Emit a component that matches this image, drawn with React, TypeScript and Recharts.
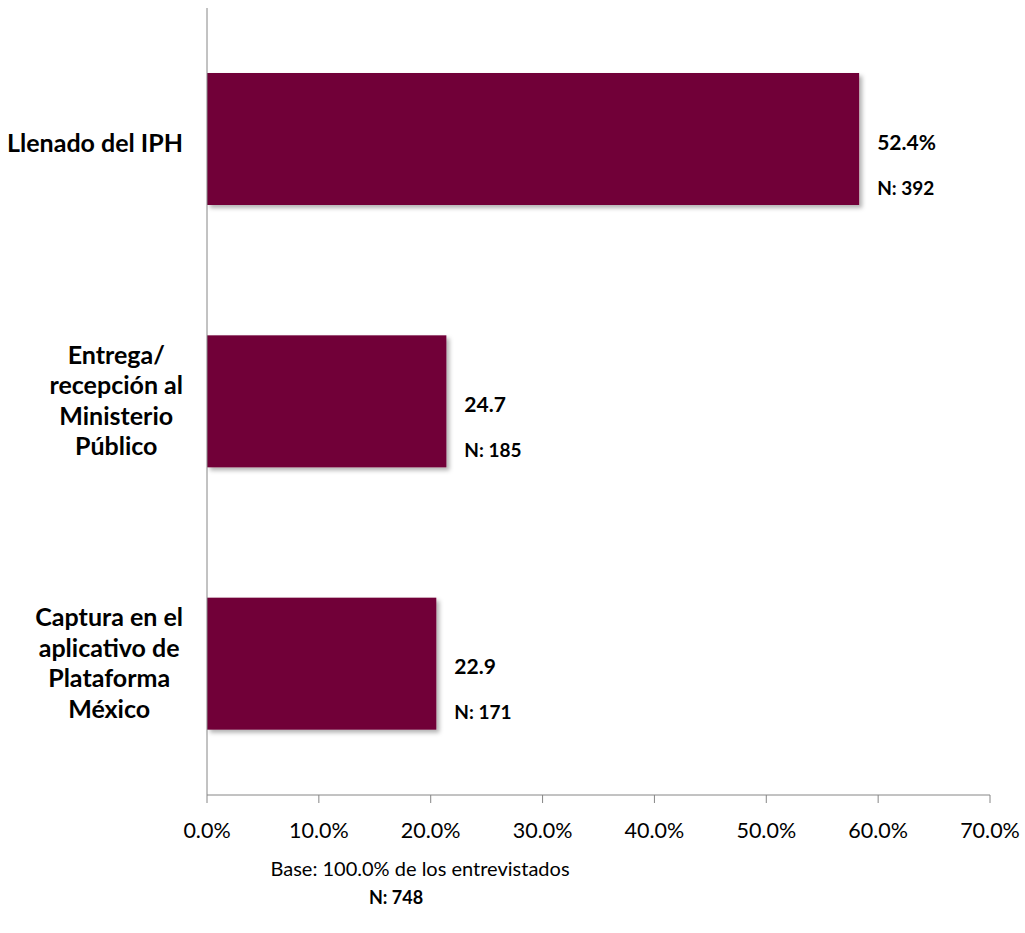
import React from "react";
import { BarChart, Bar, XAxis, YAxis, LabelList } from "recharts";

const categories = ["Llenado del IPH", "Entrega/ recepción al Ministerio Público", "Captura en el aplicativo de Plataforma México"];
const categoryLines = [
  ["Llenado del IPH"],
  ["Entrega/", "recepción al", "Ministerio", "Público"],
  ["Captura en el", "aplicativo de", "Plataforma", "México"],
];
// bar lengths as drawn in the picture (percent)
const barValues = [58.3, 21.4, 20.5];
const valueLabels = ["52.4%", "24.7", "22.9"];
const nLabels = ["N: 392", "N: 185", "N: 171"];
const xTicks = [0, 10, 20, 30, 40, 50, 60, 70];
const bandTicks = [0, 1, 2, 3];

const FONT = "Lato, 'Open Sans', sans-serif";
const BAR_COLOR = "#710439";
const AXIS_COLOR = "#868686";

const data = categories.map((name, i) => ({ name, value: barValues[i] }));

let measureCtx: CanvasRenderingContext2D | null = null;
function textWidth(text: string, font: string) {
  if (!measureCtx) measureCtx = document.createElement("canvas").getContext("2d");
  if (!measureCtx) return text.length * 12;
  measureCtx.font = font;
  return measureCtx.measureText(text).width;
}

function CategoryTick(props: any) {
  const { x, y, payload } = props;
  const idx = categories.indexOf(payload.value);
  const lines = categoryLines[idx] || [payload.value];
  const font = `bold 25px ${FONT}`;
  const blockW = Math.max(...lines.map((l) => textWidth(l, font)));
  const cx = x - blockW / 2;
  const lh = 30.5;
  const shift = lines.length === 1 ? 3 : -2;
  const startY = y + shift - ((lines.length - 1) * lh) / 2;
  return (
    <g>
      {lines.map((l, i) => (
        <text
          key={i}
          x={cx}
          y={startY + i * lh}
          textAnchor="middle"
          dominantBaseline="central"
          fontFamily={FONT}
          fontWeight="bold"
          fontSize={25}
          fill="#000"
        >
          {l}
        </text>
      ))}
    </g>
  );
}

function ValueLabel(props: any) {
  const { x, y, width, height, index } = props;
  const lx = x + width + 18;
  const cy = y + height / 2;
  return (
    <g>
      <text x={lx} y={cy + 2} dominantBaseline="central" fontFamily={FONT} fontWeight="bold" fontSize={21} fill="#000">
        {valueLabels[index]}
      </text>
      <text x={lx} y={cy + 48} dominantBaseline="central" fontFamily={FONT} fontWeight="bold" fontSize={19} fill="#000">
        {nLabels[index]}
      </text>
    </g>
  );
}

function ShadowBar(props: any) {
  const { x, y, width, height, fill } = props;
  return <rect x={x} y={y} width={width} height={height} fill={fill} filter="url(#barShadow)" />;
}

export default function App() {
  return (
    <div style={{ position: "absolute", left: 0, top: 0, width: 1025, height: 933, background: "#fff" }}>
      <BarChart
        width={1025}
        height={933}
        data={data}
        layout="vertical"
        margin={{ top: 8, right: 35, bottom: 78, left: 0 }}
      >
        <defs>
          <filter id="barShadow" x="-10%" y="-10%" width="130%" height="130%">
            <feDropShadow dx="3" dy="3" stdDeviation="2" floodColor="#000" floodOpacity="0.3" />
          </filter>
        </defs>
        <XAxis
          type="number"
          domain={[0, 70]}
          ticks={xTicks}
          tickFormatter={(v: number) => `${v.toFixed(1)}%`}
          tickSize={8}
          tickMargin={20}
          height={60}
          stroke={AXIS_COLOR}
          tick={{ fill: "#000", fontSize: 21.5, fontFamily: FONT }}
          interval={0}
        />
        <YAxis
          yAxisId="cat"
          type="category"
          dataKey="name"
          width={207}
          tickLine={false}
          tickSize={0}
          tickMargin={24}
          stroke={AXIS_COLOR}
          tick={<CategoryTick />}
          interval={0}
        />
        <YAxis
          yAxisId="band"
          type="number"
          domain={[0, 3]}
          ticks={bandTicks}
          width={0}
          axisLine={false}
          tickSize={8}
          stroke={AXIS_COLOR}
          tickLine={{ stroke: AXIS_COLOR }}
          tickFormatter={() => ""}
          interval={0}
        />
        <Bar
          yAxisId="cat"
          dataKey="value"
          fill={BAR_COLOR}
          barSize={132}
          isAnimationActive={false}
          shape={<ShadowBar />}
        >
          <LabelList dataKey="value" content={<ValueLabel />} />
        </Bar>
      </BarChart>
      <div
        style={{
          position: "absolute",
          left: 170,
          width: 500,
          top: 856,
          textAlign: "center",
          fontFamily: FONT,
          fontSize: 20,
          lineHeight: "24px",
          color: "#000",
        }}
      >
        Base: 100.0% de los entrevistados
      </div>
      <div
        style={{
          position: "absolute",
          left: 296,
          width: 200,
          top: 885,
          textAlign: "center",
          fontFamily: FONT,
          fontWeight: "bold",
          fontSize: 18,
          lineHeight: "24px",
          color: "#000",
        }}
      >
        N: 748
      </div>
    </div>
  );
}
